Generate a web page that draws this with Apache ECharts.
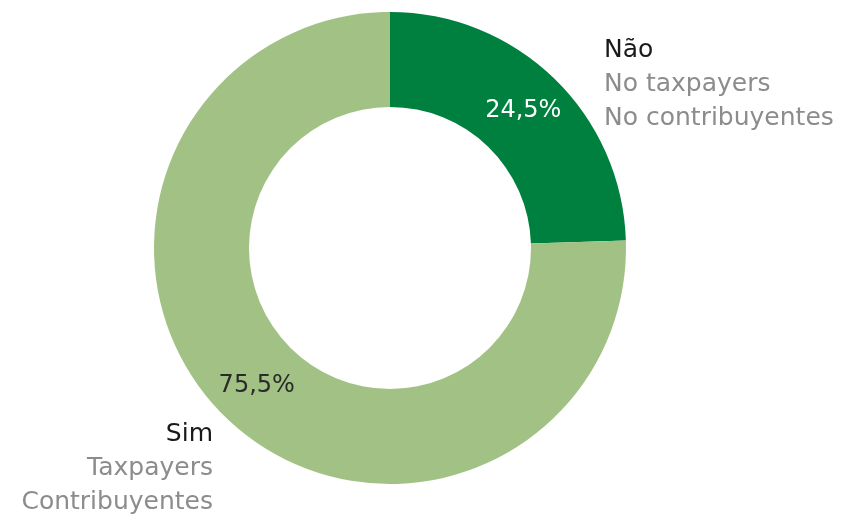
<!DOCTYPE html>
<html>
<head>
<meta charset="utf-8">
<script src="https://cdn.jsdelivr.net/npm/echarts@6/dist/echarts.min.js"></script>
<style>
html, body { margin: 0; padding: 0; background: #fff; }
#chart { width: 855px; height: 521px; }
</style>
</head>
<body>
<div id="chart"></div>
<script>
// categories and values
var names = ['Não', 'Sim'];
var subNamesEn = ['No taxpayers', 'Taxpayers'];
var subNamesEs = ['No contribuyentes', 'Contribuyentes'];
var values = [24.5, 75.5];
var colors = ['#00803f', '#a2c285'];
var labelColors = ['#ffffff', '#2a2a2a'];

var FONT = '"DejaVu Sans"';

/**
 * 三行名称文字
 */
function nameBlock(i, x, y, align) {
	var lines = [names[i], subNamesEn[i], subNamesEs[i]];
	return lines.map(function (t, k) {
		return {
			type: 'text',
			x: x, y: y + k * 34,
			style: {
				text: t,
				align: align,
				verticalAlign: 'middle',
				font: 'normal 25px ' + FONT,
				fill: k === 0 ? '#1a1a1a' : '#8c8c8e'
			}
		};
	});
}

function initChart() {
	var myChart = echarts.init(document.getElementById('chart'), null, { renderer: 'canvas' });

	var data = values.map(function (v, i) {
		return {
			name: names[i],
			value: v,
			itemStyle: { color: colors[i] },
			label: { color: labelColors[i] }
		};
	});

	var option = {
		animation: false,
		backgroundColor: '#ffffff',
		series: [{
			type: 'pie',
			center: [390, 248],
			radius: [141, 236],
			startAngle: 90,
			clockwise: true,
			silent: true,
			itemStyle: { borderWidth: 0 },
			label: {
				position: 'inside',
				fontFamily: FONT,
				fontSize: 24,
				fontWeight: 'normal',
				formatter: function (p) {
					return p.value.toFixed(1).replace('.', ',') + '%';
				}
			},
			labelLine: { show: false },
			data: data
		}],
		graphic: nameBlock(0, 604, 50, 'left').concat(nameBlock(1, 213, 434, 'right'))
	};

	myChart.setOption(option);
}

initChart();
</script>
</body>
</html>
